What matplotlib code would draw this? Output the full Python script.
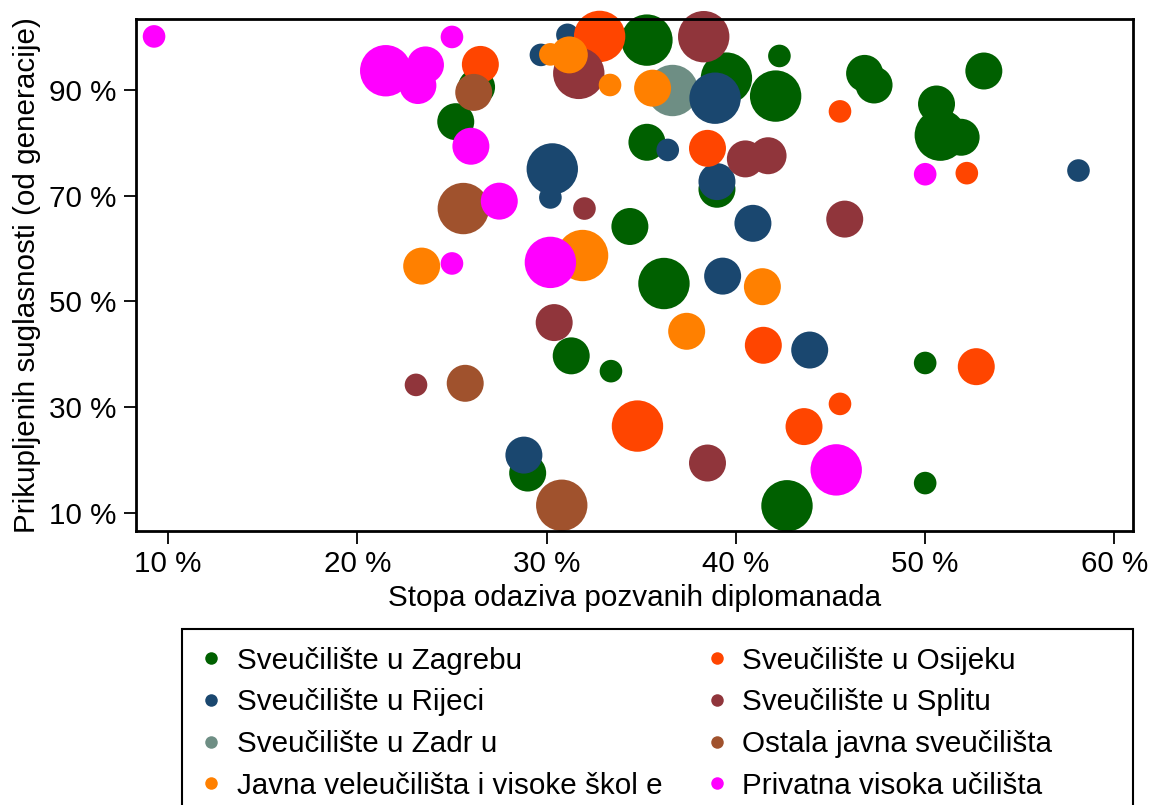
import matplotlib
matplotlib.use("Agg")
import matplotlib.pyplot as plt
from matplotlib.lines import Line2D
from matplotlib.patches import Rectangle

plt.rcParams['font.family'] = ['Liberation Sans', 'DejaVu Sans']

# data: x = response rate (%), y = collected consents (%), w = bubble weight
groups = ["Sveučilište u Zagrebu", "Sveučilište u Zadr u", "Sveučilište u Rijeci",
          "Sveučilište u Osijeku", "Sveučilište u Splitu", "Javna veleučilišta i visoke škol e",
          "Ostala javna sveučilišta", "Privatna visoka učilišta"]
colors = ["#006000", "#6e8e84", "#1a476f", "#ff4500", "#90353b", "#ff8000", "#a0522d", "#ff00ff"]

zagreb_x = [26.3, 25.2, 35.3, 39.5, 42.3, 42.1, 46.8, 47.3, 53.1, 50.6, 50.8, 51.9, 35.3, 39.0, 34.4,
            36.2, 31.3, 33.4, 50.0, 29.0, 42.7, 50.0]
zagreb_y = [90.6, 84.05, 99.5, 92.3, 96.5, 88.9, 93.2, 91.0, 93.65, 87.4, 81.5, 81.1, 80.15, 71.25, 64.2,
            53.4, 39.7, 36.8, 38.35, 17.5, 11.3, 15.6]
zagreb_w = [2, 2, 3, 3, 1, 3, 2, 2, 2, 2, 3, 2, 2, 2, 2, 3, 2, 1, 1, 2, 3, 1]

zadar_x = [36.6]
zadar_y = [90.0]
zadar_w = [3]

rijeka_x = [31.1, 29.7, 38.9, 36.4, 30.3, 30.2, 39.0, 40.9, 58.1, 39.3, 43.9, 28.8]
rijeka_y = [100.5, 96.7, 88.5, 78.7, 75.1, 69.7, 72.7, 64.8, 74.8, 54.8, 40.8, 20.9]
rijeka_w = [1, 1, 3, 1, 3, 1, 2, 2, 1, 2, 2, 2]

osijek_x = [32.8, 26.5, 45.5, 38.5, 52.2, 41.45, 52.7, 45.5, 34.8, 43.6]
osijek_y = [100.2, 94.9, 86.0, 79.0, 74.3, 41.7, 37.65, 30.6, 26.4, 26.3]
osijek_w = [3, 2, 1, 2, 1, 2, 2, 1, 3, 2]

split_x = [38.3, 31.7, 40.5, 41.7, 32.0, 45.75, 30.4, 23.1, 38.5]
split_y = [100.15, 93.2, 77.0, 77.6, 67.6, 65.6, 46.0, 34.2, 19.4]
split_w = [3, 3, 2, 2, 1, 2, 2, 1, 2]

javna_x = [30.2, 31.2, 33.35, 35.6, 31.9, 23.4, 41.4, 37.4]
javna_y = [96.8, 96.7, 91.0, 90.4, 58.7, 56.7, 52.8, 44.35]
javna_w = [1, 2, 1, 2, 3, 2, 2, 2]

ostala_x = [26.15, 25.6, 25.7, 30.8]
ostala_y = [89.6, 67.6, 34.5, 11.4]
ostala_w = [2, 3, 2, 3]

privatna_x = [9.26, 21.5, 23.6, 23.2, 25.0, 26.0, 27.5, 25.0, 30.2, 50.0, 45.3]
privatna_y = [100.2, 93.7, 94.8, 90.9, 100.1, 79.4, 69.0, 57.2, 57.4, 74.1, 18.1]
privatna_w = [1, 3, 2, 2, 1, 2, 2, 1, 3, 1, 3]

series = [(zagreb_x, zagreb_y, zagreb_w), (zadar_x, zadar_y, zadar_w), (rijeka_x, rijeka_y, rijeka_w),
          (osijek_x, osijek_y, osijek_w), (split_x, split_y, split_w), (javna_x, javna_y, javna_w),
          (ostala_x, ostala_y, ostala_w), (privatna_x, privatna_y, privatna_w)]

size_map = {1: 265, 2: 709, 3: 1369}
fs = 21.3

fig = plt.figure(figsize=(11.54, 8.05), dpi=100)
ax = fig.add_axes([0.1179, 0.3404, 0.8639, 0.636])

for (xs, ys, ws), col in zip(series, colors):
    ax.scatter(xs, ys, s=[size_map[w] for w in ws], color=col, linewidths=0, clip_on=False)

ax.set_xlim(8.31, 60.98)
ax.set_ylim(6.53, 103.5)
xt = [10, 20, 30, 40, 50, 60]
yt = [10, 30, 50, 70, 90]
ax.set_xticks(xt)
ax.set_xticklabels([f"{v} %" for v in xt], fontsize=fs)
ax.set_yticks(yt)
ax.set_yticklabels([f"{v} %" for v in yt], fontsize=fs)
ax.tick_params(direction='out', length=9, width=1.3, pad=5)
for sp in ax.spines.values():
    sp.set_linewidth(2)
ax.set_xlabel("Stopa odaziva pozvanih diplomanada", fontsize=fs, labelpad=4)
ax.set_ylabel("Prikupljenih suglasnosti (od generacije)", fontsize=fs, labelpad=6)

# legend (two columns, order as in reference)
order = [0, 2, 1, 5, 3, 4, 6, 7]
handles = [Line2D([], [], linestyle='none', marker='o', markersize=9, markeredgewidth=0,
                  color=colors[i]) for i in order]
labels = [groups[i] for i in order]
fig.add_artist(Rectangle((182 / 1154, -0.05), (1133 - 182) / 1154, 1 - 629 / 805 + 0.05,
                         transform=fig.transFigure, fill=False, edgecolor='black', linewidth=1.5))
fig.legend(handles, labels, ncol=2, loc='upper left', bbox_to_anchor=(173 / 1154, 1 - 626 / 805),
           frameon=False, fontsize=fs, handletextpad=0.25, labelspacing=0.46, columnspacing=1.25,
           handlelength=1.2, borderpad=0.2)

fig.savefig("out.png", dpi=100)
